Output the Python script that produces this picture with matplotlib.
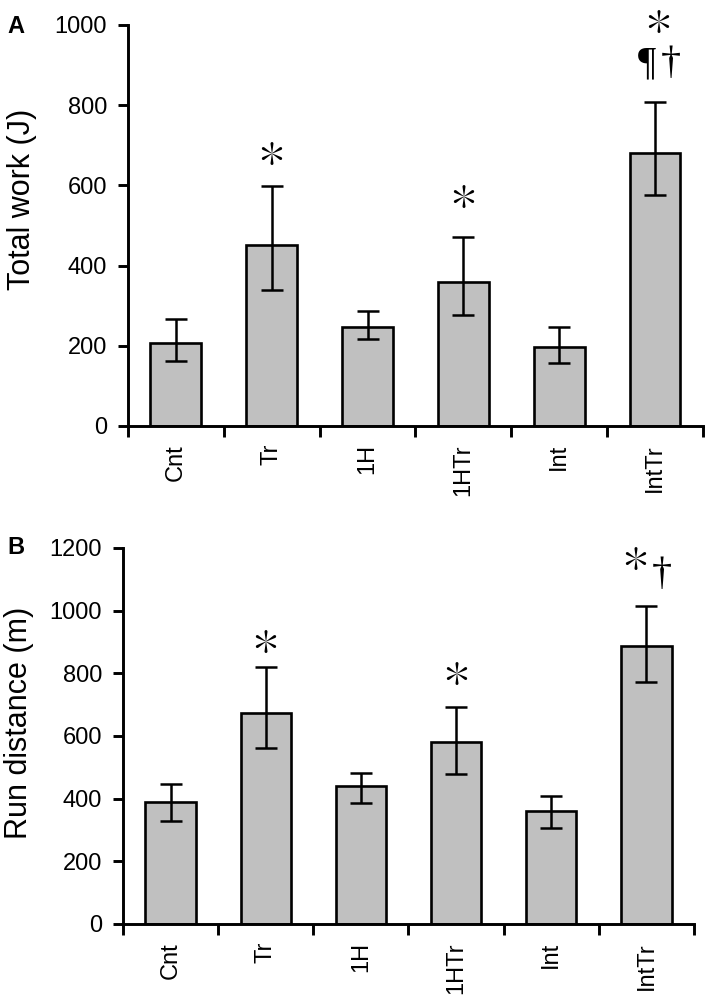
import numpy as np
import matplotlib
matplotlib.use("Agg")
import matplotlib.pyplot as plt

plt.rcParams['font.family'] = ['Liberation Sans', 'DejaVu Sans']

groups = ['Cnt', 'Tr', '1H', '1HTr', 'Int', 'IntTr']

# panel A: total work (J)
work = [207, 451, 247, 359, 197, 681]
work_hi = [267, 598, 287, 471, 247, 808]
work_lo = [162, 339, 217, 277, 157, 576]

# panel B: run distance (m)
dist = [389, 673, 440, 581, 361, 887]
dist_hi = [447, 820, 482, 693, 409, 1015]
dist_lo = [329, 562, 386, 479, 306, 772]

# significance marks: (group index, x shift, y value, text)
marks_a = [(1, 0.0, 671, '✽'), (3, 0.0, 564, '✽'), (5, 0.03, 1000, '✽'),
           (5, -0.08, 903, '¶'), (5, 0.16, 903, '†')]
marks_b = [(1, 0.0, 890, '✽'), (3, 0.0, 788, '✽'), (5, -0.11, 1155, '✽'),
           (5, 0.16, 1114, '†')]

fig = plt.figure(figsize=(7.09, 9.99), dpi=100)
axA = fig.add_axes([0.1805, 0.5736, 0.811, 0.4014])
axB = fig.add_axes([0.1735, 0.0751, 0.8053, 0.3764])


def panel(ax, vals, hi, lo, ymax, ylabel, label_x, label_y, marks):
    x = np.arange(len(groups))
    vals = np.array(vals)
    yerr = [vals - np.array(lo), np.array(hi) - vals]
    ax.bar(x, vals, width=0.53, color='#c0c0c0', edgecolor='black', linewidth=1.9, zorder=2)
    ax.errorbar(x, vals, yerr=yerr, fmt='none', ecolor='black', elinewidth=1.8,
                capsize=8, capthick=1.8, zorder=3)
    ax.set_xlim(-0.5, len(groups) - 0.5)
    ax.set_ylim(0, ymax)
    ax.set_yticks(np.arange(0, ymax + 1, 200))
    ax.set_xticks(x)
    ax.set_xticklabels(groups, rotation=90, fontsize=17)
    ax.set_xticks(np.arange(-0.5, len(groups)), minor=True)
    ax.tick_params(axis='x', which='major', length=0, pad=13)
    ax.tick_params(axis='x', which='minor', length=8, width=2.1, direction='out')
    ax.tick_params(axis='y', length=7, width=2.1, labelsize=17, pad=8)
    for s in ['top', 'right']:
        ax.spines[s].set_visible(False)
    for s in ['left', 'bottom']:
        ax.spines[s].set_linewidth(2.1)
    ax.set_ylabel(ylabel, fontsize=22)
    ax.yaxis.set_label_coords(label_x, label_y)
    for i, dx, y, t in marks:
        if t == '✽':
            ax.text(i + dx, y, t, ha='center', va='center', fontsize=23,
                    family=['Noto Sans CJK JP', 'DejaVu Sans'], clip_on=False)
        else:
            ax.text(i + dx, y, t, ha='center', va='center', fontsize=29,
                    family=['Liberation Serif', 'DejaVu Serif'], clip_on=False)


panel(axA, work, work_hi, work_lo, 1000, 'Total work (J)', -0.158, 0.564, marks_a)
panel(axB, dist, dist_hi, dist_lo, 1200, 'Run distance (m)', -0.156, 0.535, marks_b)

fig.text(0.011, 0.973, 'A', fontsize=17, fontweight='bold', va='center')
fig.text(0.011, 0.452, 'B', fontsize=17, fontweight='bold', va='center')

fig.savefig('out.png', dpi=100)
